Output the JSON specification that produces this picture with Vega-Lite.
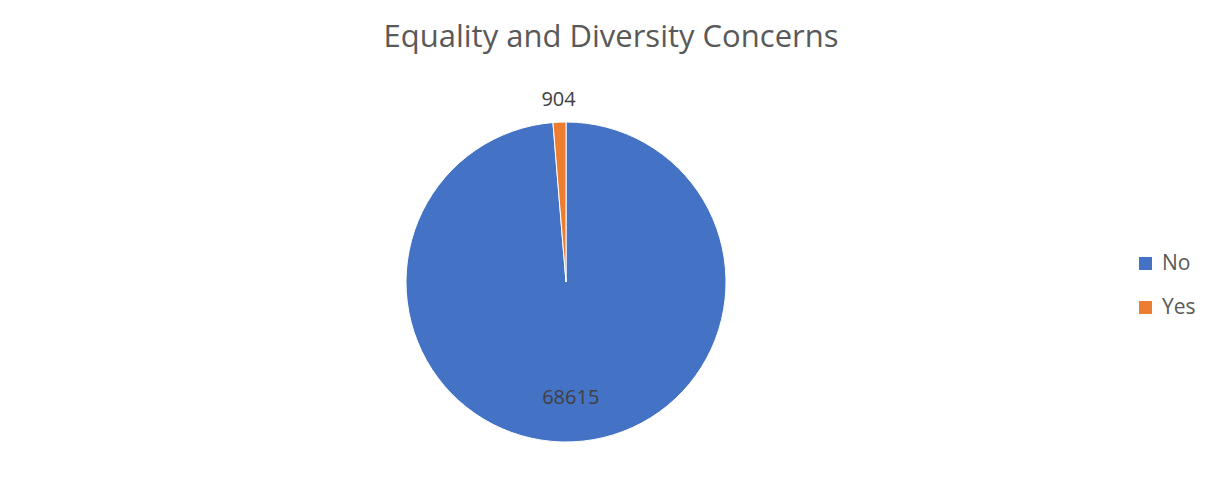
{
  "$schema": "https://vega.github.io/schema/vega-lite/v6.json",
  "autosize": "none",
  "width": 1132,
  "height": 416,
  "padding": {"left": 0, "top": 74, "right": 76, "bottom": 0},
  "background": "white",
  "config": {"view": {"stroke": null}, "font": "Open Sans"},
  "title": {
    "text": "Equality and Diversity Concerns",
    "font": "Open Sans",
    "fontSize": 31,
    "fontWeight": "normal",
    "color": "#595959",
    "anchor": "middle",
    "dx": 45,
    "dy": 18,
    "baseline": "alphabetic",
    "offset": 14
  },
  "data": {"values": [
    {"answer": "No", "count": 68615},
    {"answer": "Yes", "count": 904}
  ]},
  "encoding": {
    "theta": {"field": "count", "type": "quantitative", "stack": true},
    "order": {"field": "count", "type": "quantitative", "sort": "descending"},
    "color": {
      "field": "answer",
      "type": "nominal",
      "scale": {"domain": ["No", "Yes"], "range": ["#4472C4", "#ED7D31"]},
      "legend": {
        "title": null,
        "orient": "none",
        "legendX": 1135,
        "legendY": 179,
        "symbolType": "square",
        "symbolSize": 169,
        "symbolStrokeWidth": 0,
        "labelFont": "Open Sans",
        "labelFontSize": 21,
        "labelColor": "#595959",
        "labelOffset": 6,
        "rowPadding": 22
      }
    }
  },
  "layer": [
    {"mark": {"type": "arc", "outerRadius": 160, "stroke": "white", "strokeWidth": 1}},
    {
      "mark": {"type": "text", "radius": 116, "fontSize": 20, "font": "Open Sans"},
      "encoding": {
        "text": {"condition": {"test": "datum.answer == 'No'", "field": "count", "type": "quantitative", "format": "d"}, "value": ""},
        "fill": {"value": "#404040"}
      }
    },
    {
      "mark": {"type": "text", "radius": 182, "fontSize": 20, "font": "Open Sans"},
      "encoding": {
        "text": {"condition": {"test": "datum.answer == 'Yes'", "field": "count", "type": "quantitative", "format": "d"}, "value": ""},
        "fill": {"value": "#404040"}
      }
    }
  ]
}
